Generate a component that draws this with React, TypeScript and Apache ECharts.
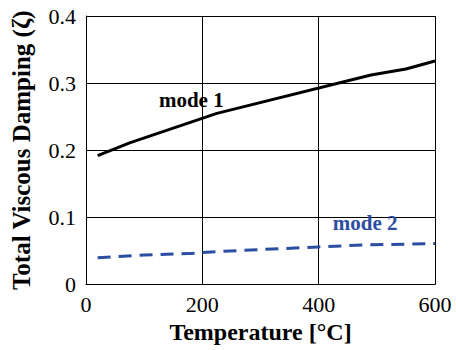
import React, { useEffect, useRef } from "react";
import * as echarts from "echarts";

const mode1Temp = [20, 75, 225, 490, 550, 600];
const mode1Damping = [0.192, 0.211, 0.255, 0.312, 0.321, 0.333];
const mode2Temp = [20, 100, 175, 225, 400, 480, 600];
const mode2Damping = [0.04, 0.044, 0.046, 0.049, 0.056, 0.059, 0.061];
const xTicks = [0, 200, 400, 600];
const yTicks = [0, 0.1, 0.2, 0.3, 0.4];
const labelTexts = ["mode 1", "mode 2"];
const labelTemp = [181, 480];
const labelDamping = [0.275, 0.092];

const FONT = "Liberation Serif";
const BLUE = "#2B4EA2";

export default function App() {
  const ref = useRef<HTMLDivElement>(null);
  useEffect(() => {
    document.body.style.margin = "0";
    if (!ref.current) return;
    const chart = echarts.init(ref.current, null, { renderer: "svg" });
    const pair = (xs: number[], ys: number[]) => xs.map((x, i) => [x, ys[i]]);
    const labelSeries = (i: number, color: string) => ({
      type: "scatter",
      data: [[labelTemp[i], labelDamping[i]]],
      symbolSize: 1,
      itemStyle: { color: "rgba(0,0,0,0)", opacity: 1 },
      silent: true,
      label: {
        show: true,
        position: "inside",
        formatter: labelTexts[i],
        fontFamily: FONT,
        fontSize: 21,
        fontWeight: "bold",
        color,
        opacity: 1,
      },
      z: 5,
    });
    chart.setOption({
      animation: false,
      backgroundColor: "#ffffff",
      textStyle: { fontFamily: FONT },
      grid: { left: 86, right: 21, top: 16, bottom: 65.5 },
      xAxis: {
        type: "value",
        min: xTicks[0],
        max: xTicks[xTicks.length - 1],
        interval: 200,
        name: "Temperature [°C]",
        nameLocation: "middle",
        nameGap: 34,
        nameTextStyle: { fontFamily: FONT, fontSize: 24, fontWeight: "bold", color: "#000" },
        axisLine: { show: true, lineStyle: { color: "#000", width: 1 } },
        axisTick: { show: false },
        axisLabel: { fontFamily: FONT, fontSize: 22, color: "#000", margin: 9 },
        splitLine: { show: true, lineStyle: { color: "#000", width: 1 } },
      },
      yAxis: {
        type: "value",
        min: yTicks[0],
        max: yTicks[yTicks.length - 1],
        interval: 0.1,
        name: "Total Viscous Damping (ζ)",
        nameLocation: "middle",
        nameGap: 52,
        nameTextStyle: { fontFamily: FONT, fontSize: 25, fontWeight: "bold", color: "#000" },
        axisLine: { show: true, lineStyle: { color: "#000", width: 1 } },
        axisTick: { show: false },
        axisLabel: {
          fontFamily: FONT,
          fontSize: 22,
          color: "#000",
          margin: 10,
          formatter: (v: number) => (v === 0 ? "0" : v.toFixed(1)),
        },
        splitLine: { show: true, lineStyle: { color: "#000", width: 1 } },
      },
      series: [
        {
          type: "line",
          name: "mode 1",
          data: pair(mode1Temp, mode1Damping),
          showSymbol: false,
          symbol: "none",
          lineStyle: { color: "#000", width: 3 },
        },
        {
          type: "line",
          name: "mode 2",
          data: pair(mode2Temp, mode2Damping),
          showSymbol: false,
          symbol: "none",
          lineStyle: { color: BLUE, width: 3, type: [13, 8] },
        },
        labelSeries(0, "#000"),
        labelSeries(1, BLUE),
      ],
    });
    return () => chart.dispose();
  }, []);
  return <div ref={ref} style={{ width: 456, height: 350 }} />;
}
